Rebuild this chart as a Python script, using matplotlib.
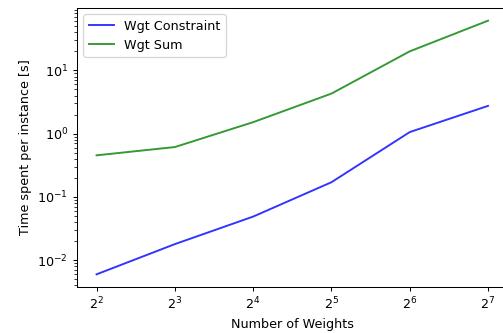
import matplotlib
matplotlib.use("Agg")
import matplotlib.pyplot as plt

num_weights = [4, 8, 16, 32, 64, 128]
wgt_constraint = [0.0060, 0.018, 0.049, 0.171, 1.06, 2.75]
wgt_sum = [0.455, 0.615, 1.52, 4.3, 20.0, 61.0]

W, H, DPI = 503, 333, 92
fig = plt.figure(figsize=(W / DPI, H / DPI), dpi=DPI)
ax = fig.add_axes([77 / W, (333 - 287) / H, (507.6 - 77) / W, (287 - 8) / H])

ax.plot(num_weights, wgt_constraint, color="b", alpha=0.8, label="Wgt Constraint")
ax.plot(num_weights, wgt_sum, color="g", alpha=0.8, label="Wgt Sum")
ax.set_xscale("log", base=2)
ax.set_yscale("log")
ax.set_xlabel("Number of Weights", fontsize=10)
ax.set_ylabel("Time spent per instance [s]", fontsize=10)
ax.tick_params(labelsize=10)
ax.legend(loc="upper left", fontsize=10)

fig.savefig("out.png", dpi=DPI)
